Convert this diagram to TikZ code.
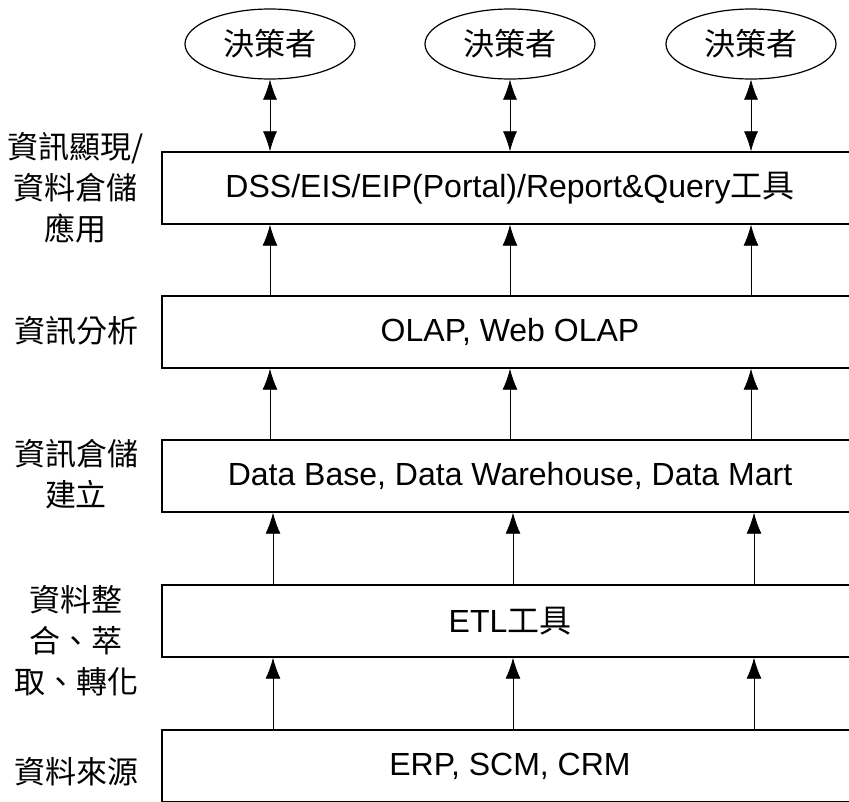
\documentclass[tikz,border=0pt]{standalone}
\usepackage{fontspec}
\setmainfont{Liberation Sans}
\newfontfamily\cjk{Noto Sans CJK TC}
\usetikzlibrary{shapes.geometric,arrows.meta}
\tikzset{
  layerbox/.style={draw,line width=1.4pt,minimum width=696pt,minimum height=72pt,inner sep=0pt,
    font=\fontsize{32}{36}\selectfont},
  person/.style={draw,ellipse,line width=1.2pt,minimum width=170pt,minimum height=70pt,inner sep=0pt,
    font=\cjk\fontsize{31}{36}\selectfont},
  lbl/.style={align=center,inner sep=0pt,font=\cjk\fontsize{31}{41}\selectfont},
  dbl/.style={line width=0.7pt,{Latex[length=20pt,width=14pt]}-{Latex[length=20pt,width=14pt]}},
  up/.style={line width=0.9pt,-{Latex[length=21pt,width=15pt]}},
}
\begin{document}
\begin{tikzpicture}[x=1pt,y=-1pt]
\useasboundingbox (0,0) rectangle (849,801);
\clip (0,0) rectangle (849,801);
\fill[white] (0,0) rectangle (849,801);
% decision makers
\node[person] (e1) at (270,44) {決策者};
\node[person] (e2) at (510,44) {決策者};
\node[person] (e3) at (751,44) {決策者};
% layers
\node[layerbox] (b1) at (510,188) {DSS/EIS/EIP(Portal)/Report\&Query{\cjk 工具}};
\node[layerbox] (b2) at (510,332) {OLAP, Web OLAP};
\node[layerbox] (b3) at (510,476) {Data Base, Data Warehouse, Data Mart};
\node[layerbox] (b4) at (510,621) {ETL{\cjk 工具}};
\node[layerbox] (b5) at (510,766) {ERP, SCM, CRM};
% left labels
\node[lbl] (l1) at (76,188) {資訊顯現/\\資料倉儲\\應用};
\node[lbl] (l2) at (76,331) {資訊分析};
\node[lbl] (l3) at (76,474) {資訊倉儲\\建立};
\node[lbl] (l4) at (76,641) {資料整\\合、萃\\取、轉化};
\node[lbl] (l5) at (76,772) {資料來源};
% columns for lower arrows
\coordinate (c1) at (273,0);
\coordinate (c2) at (513,0);
\coordinate (c3) at (754,0);
% arrows
\foreach \e in {e1,e2,e3}{
  \draw[dbl] (\e.south) -- (\e.south |- b1.north);
  \draw[up] (b2.north -| \e) -- (b1.south -| \e);
  \draw[up] (b3.north -| \e) -- (b2.south -| \e);
}
\foreach \c in {c1,c2,c3}{
  \draw[up] (b4.north -| \c) -- (b3.south -| \c);
  \draw[up] (b5.north -| \c) -- (b4.south -| \c);
}
\end{tikzpicture}
\end{document}
